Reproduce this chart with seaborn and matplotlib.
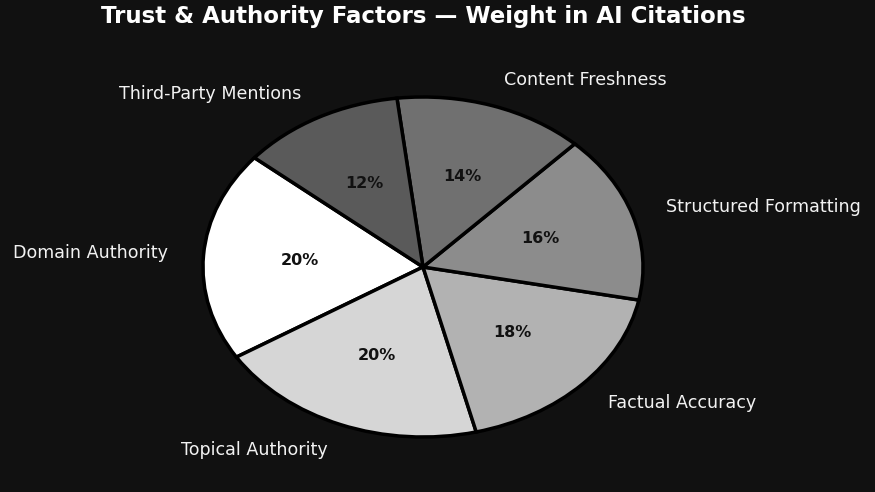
import matplotlib
matplotlib.use("Agg")
import matplotlib.pyplot as plt
import seaborn as sns

# data
factors = [
    "Domain Authority",
    "Topical Authority",
    "Factual Accuracy",
    "Structured Formatting",
    "Content Freshness",
    "Third-Party Mentions",
]
weights = [20, 20, 18, 16, 14, 12]
slice_colors = ["#ffffff", "#d6d6d6", "#b2b2b2", "#8c8c8c", "#707070", "#5a5a5a"]

BG = "#111111"

sns.set_theme(style="dark")
plt.rcParams["font.family"] = ["DejaVu Sans"]

fig = plt.figure(figsize=(8.75, 4.92), dpi=100, facecolor=BG)
ax = fig.add_axes([0, 0, 1, 1])
ax.set_facecolor(BG)

wedges, texts, autotexts = ax.pie(
    weights,
    labels=factors,
    colors=slice_colors,
    startangle=140,
    counterclock=True,
    autopct="%1.0f%%",
    pctdistance=0.56,
    labeldistance=1.16,
    wedgeprops={"edgecolor": "black", "linewidth": 2.5},
    textprops={"color": "#f2f2f2", "fontsize": 12.6},
)
for t in autotexts:
    t.set_color("#111111")
    t.set_fontweight("bold")
    t.set_fontsize(11.5)

# elliptical pie as in the reference
ax.set_aspect("auto")
ax.set_xlim(-423 / 220, (875 - 423) / 220)
ax.set_ylim(-225 / 170, 267 / 170)
ax.axis("off")

fig.text(423.5 / 875, 1 - 17 / 492, "Trust & Authority Factors — Weight in AI Citations",
         color="white", fontsize=16.5, fontweight="bold", ha="center", va="center")

fig.savefig("out.png", dpi=100, facecolor=BG)
